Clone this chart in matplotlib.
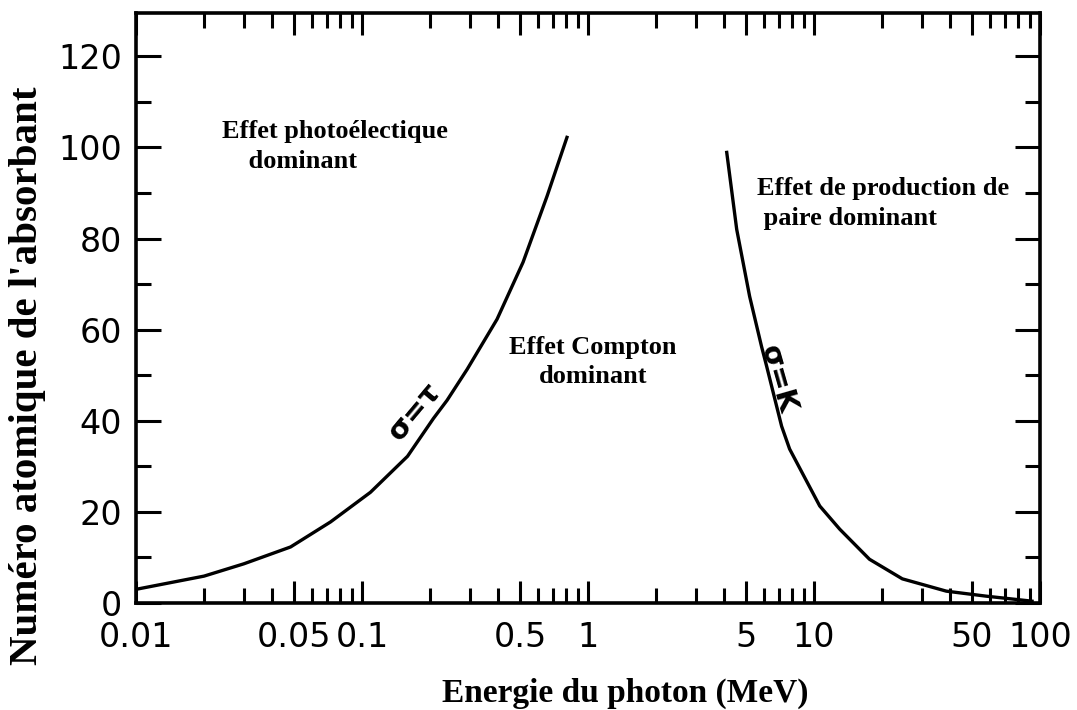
import numpy as np
import matplotlib
matplotlib.use("Agg")
import matplotlib.pyplot as plt
from matplotlib.ticker import FixedLocator, FixedFormatter, NullFormatter

# courbe sigma = tau (photoélectrique = Compton)
e_tau = [0.0100, 0.0200, 0.0300, 0.0483, 0.0726, 0.109, 0.159, 0.207, 0.238,
         0.292, 0.396, 0.516, 0.659, 0.807]
z_tau = [3.0, 5.9, 8.6, 12.3, 17.8, 24.3, 32.2, 40.5, 44.5,
         51.3, 62.3, 74.8, 89.3, 102.2]

# courbe sigma = kappa (Compton = production de paire)
e_kap = [4.11, 4.55, 5.19, 5.86, 6.17, 7.19, 7.80, 10.6, 13.0, 17.6, 24.6,
         38.5, 57.8, 92.2]
z_kap = [98.9, 82.0, 67.3, 56.3, 52.0, 38.8, 33.8, 21.3, 16.2, 9.6, 5.3,
         2.6, 1.5, 0.4]

x_major = [0.01, 0.05, 0.1, 0.5, 1, 5, 10, 50, 100]
x_labels = ["0.01", "0.05", "0.1", "0.5", "1", "5", "10", "50", "100"]
x_minor = [m * d for d in [0.01, 0.1, 1, 10] for m in [2, 3, 4, 6, 7, 8, 9]]
y_major = [0, 20, 40, 60, 80, 100, 120]
y_minor = [10, 30, 50, 70, 90, 110]

fig = plt.figure(figsize=(10.77, 7.10), dpi=100)
ax = fig.add_axes([136 / 1077, 1 - 603 / 710, (1040 - 136) / 1077, (603 - 13) / 710])

ax.plot(e_tau, z_tau, color="black", lw=2.4, solid_joinstyle="round")
ax.plot(e_kap, z_kap, color="black", lw=2.4, solid_joinstyle="round")

ax.set_xscale("log")
ax.set_xlim(0.01, 100)
ax.set_ylim(0, 129.5)

ax.xaxis.set_major_locator(FixedLocator(x_major))
ax.xaxis.set_major_formatter(FixedFormatter(x_labels))
ax.xaxis.set_minor_locator(FixedLocator(x_minor))
ax.xaxis.set_minor_formatter(NullFormatter())
ax.yaxis.set_major_locator(FixedLocator(y_major))
ax.yaxis.set_minor_locator(FixedLocator(y_minor))

ax.tick_params(which="both", direction="in", top=True, right=True, width=2.2,
               color="black", labelsize=24)
ax.tick_params(axis="x", which="major", length=16, pad=13)
ax.tick_params(axis="x", which="minor", length=11)
ax.tick_params(axis="y", which="major", length=18, pad=10)
ax.tick_params(axis="y", which="minor", length=11)
for s in ax.spines.values():
    s.set_linewidth(2.6)

serif = "Liberation Serif"
lab_kw = dict(family=serif, fontweight="bold", fontsize=19, color="black")
ax.text(0.0240, 106, "Effet photoélectique\n    dominant", ha="left", va="top",
        linespacing=1.4, **lab_kw)
ax.text(1.05, 58.5, "Effet Compton\ndominant", ha="center", va="top",
        multialignment="center", linespacing=1.3, **lab_kw)
ax.text(5.6, 93.5, "Effet de production de\n paire dominant", ha="left", va="top",
        linespacing=1.4, **lab_kw)

ax.text(0.172, 42, "σ=τ", rotation=50, ha="center", va="center",
        fontsize=21, fontweight="bold", family="DejaVu Sans")
ax.text(6.93, 49, "σ=K", rotation=-74, ha="center", va="center",
        fontsize=21, fontweight="bold", family="DejaVu Sans")

fig.text(625 / 1077, 8 / 710, "Energie du photon (MeV)", ha="center", va="baseline",
         family=serif, fontweight="bold", fontsize=24)
fig.text(28 / 1077, 1 - 376 / 710, "Numéro atomique de l'absorbant", rotation=90,
         ha="center", va="center", family=serif, fontweight="bold", fontsize=29.5)

fig.savefig("out.png", dpi=100, facecolor="white")
